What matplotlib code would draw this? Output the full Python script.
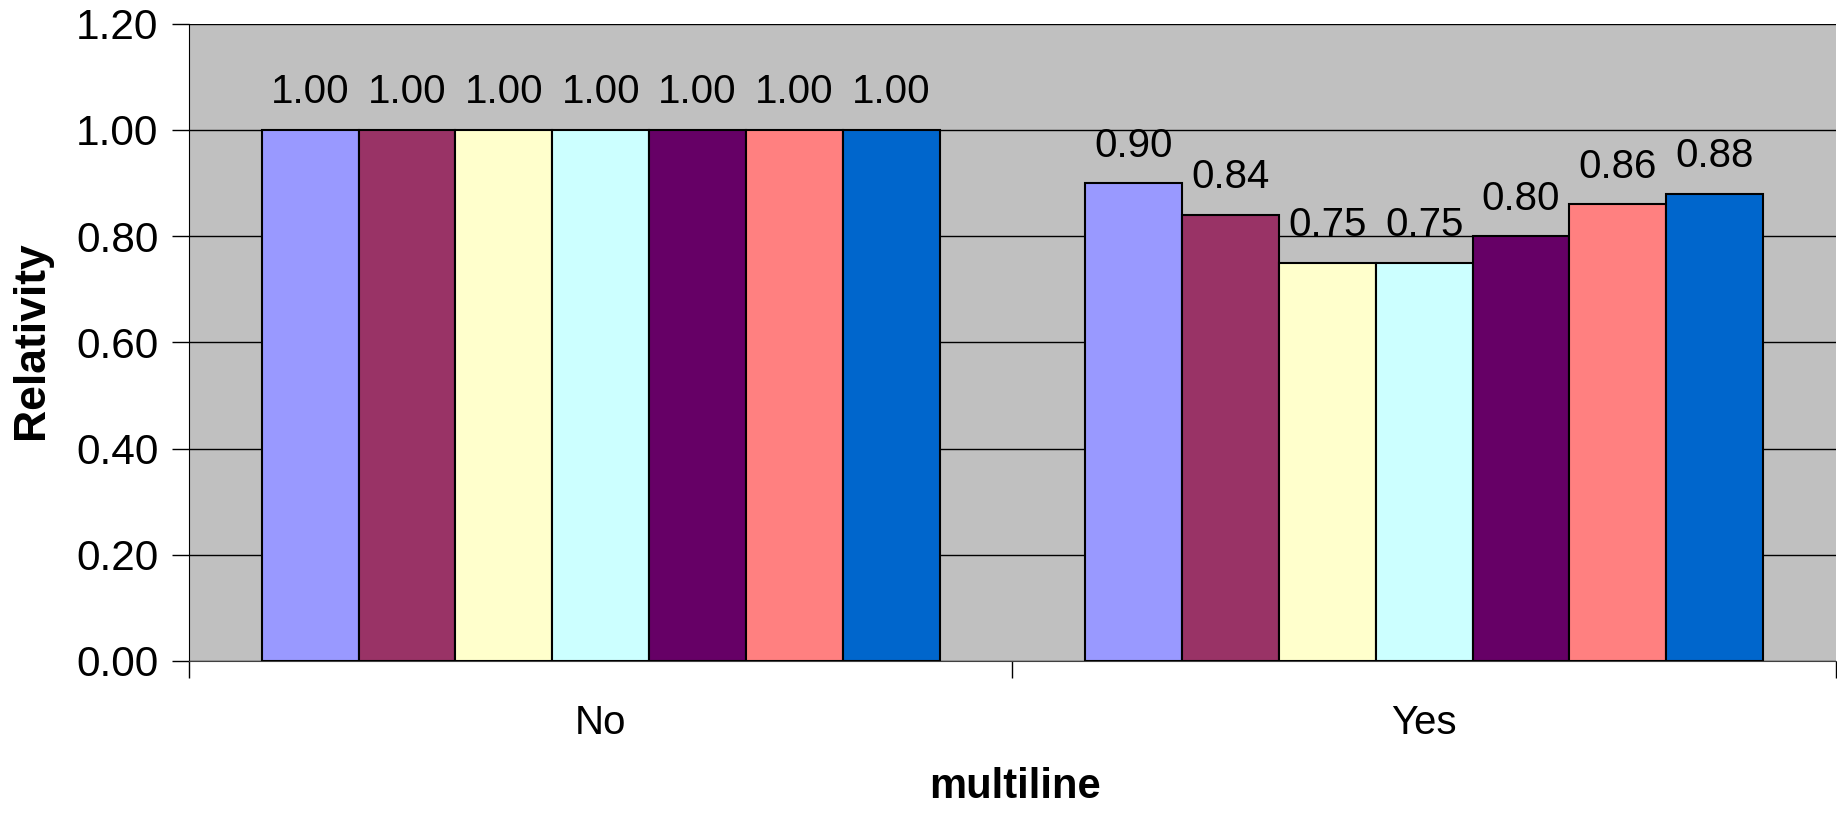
import matplotlib.pyplot as plt
import numpy as np

plt.rcParams['font.family'] = ['Liberation Sans', 'DejaVu Sans']

# Relativity by multiline flag, seven series per group
categories = ['No', 'Yes']
series_no = [1.00, 1.00, 1.00, 1.00, 1.00, 1.00, 1.00]
series_yes = [0.90, 0.84, 0.75, 0.75, 0.80, 0.86, 0.88]
bar_colors = ['#9999FF', '#993366', '#FFFFCC', '#CCFFFF', '#660066', '#FF8080', '#0066CC']
y_ticks = [0.0, 0.2, 0.4, 0.6, 0.8, 1.0, 1.2]

values = np.array([series_no, series_yes])
n_series = values.shape[1]

fig = plt.figure(figsize=(18.37, 8.13), dpi=100)
ax = fig.add_axes([0.1029, 0.187, 0.8965, 0.784])
ax.set_facecolor('#C0C0C0')

# Excel style: gap width 150%
width = 1.0 / (n_series + 1.5)
x = np.arange(len(categories))
for i in range(n_series):
    pos = x - width * n_series / 2 + width * (i + 0.5)
    bars = ax.bar(pos, values[:, i], width, color=bar_colors[i],
                  edgecolor='black', linewidth=1.5, zorder=3)
    for b, v in zip(bars, values[:, i]):
        ax.annotate(f'{v:.2f}', (b.get_x() + b.get_width() / 2, v),
                    xytext=(0, 19), textcoords='offset points',
                    ha='center', va='baseline', fontsize=29)

ax.set_xlim(-0.5, 1.5)
ax.set_ylim(0, 1.2)
ax.set_yticks(y_ticks)
ax.set_yticklabels([f'{t:.2f}' for t in y_ticks])
ax.yaxis.grid(True, color='black', linewidth=1)
ax.set_axisbelow(True)

# category labels centered, tick marks on the category boundaries
ax.set_xticks(x)
ax.set_xticklabels(categories)
ax.tick_params(axis='x', which='major', length=0, pad=31, labelsize=29)
ax.set_xticks([-0.5, 0.5, 1.5], minor=True)
ax.tick_params(axis='x', which='minor', length=12, width=1, direction='out')
ax.tick_params(axis='y', length=12, width=1, direction='out', pad=10, labelsize=30.5)

for s in ['top', 'right']:
    ax.spines[s].set_visible(False)
ax.spines['left'].set_color('black')
ax.spines['bottom'].set_color('#404040')

fig.text(0.5525, 0.0315, 'multiline', ha='center', va='center',
         fontsize=30, fontweight='bold')
fig.text(0.0174, 0.582, 'Relativity', ha='center', va='center',
         rotation=90, fontsize=32, fontweight='bold')

fig.savefig('out.png', dpi=100)
